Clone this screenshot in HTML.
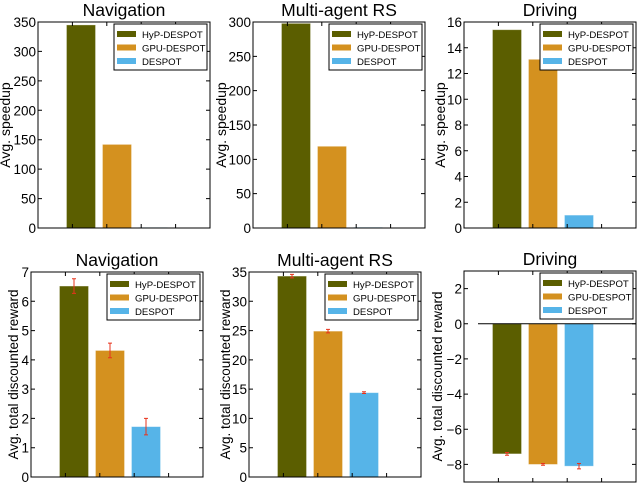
<!DOCTYPE html>
<html><head><meta charset="utf-8"><style>
body{margin:0;background:#fff}
svg{display:block;font-family:"Liberation Sans","DejaVu Sans",sans-serif}
</style></head><body>
<svg id="chart" width="640" height="483" viewBox="0 0 640 483"></svg>
<script>
const series = ["HyP-DESPOT","GPU-DESPOT","DESPOT"];
const colors = ["#5b5e00","#d4911f","#56b4e8"];
const titles = ["Navigation","Multi-agent RS","Driving"];
const speedupNav = [345, 142, 1];
const speedupRS = [298, 119, 1];
const speedupDrive = [15.4, 13.1, 1.0];
const rewardNav = [6.52, 4.32, 1.72];
const rewardNavErr = [0.25, 0.25, 0.28];
const rewardRS = [34.3, 24.9, 14.4];
const rewardRSErr = [0.3, 0.3, 0.15];
const rewardDrive = [-7.4, -8.0, -8.1];
const rewardDriveErr = [0.08, 0.05, 0.15];
const ticksNav = [0,50,100,150,200,250,300,350];
const ticksRS = [0,50,100,150,200,250,300];
const ticksDrive = [0,2,4,6,8,10,12,14,16];
const ticksRNav = [0,1,2,3,4,5,6,7];
const ticksRRS = [0,5,10,15,20,25,30,35];
const ticksRDrive = [-8,-6,-4,-2,0,2];

const panels = [
 {name:"navigation-speedup",L:38,T:22,B:228,lx:10,title:titles[0],yl:"Avg. speedup",vals:speedupNav,err:null,ymin:0,ymax:350,ticks:ticksNav},
 {name:"multiagent-speedup",L:253,T:22,B:228,lx:226,title:titles[1],yl:"Avg. speedup",vals:speedupRS,err:null,ymin:0,ymax:300,ticks:ticksRS},
 {name:"driving-speedup",L:464,T:22,B:228,lx:445,title:titles[2],yl:"Avg. speedup",vals:speedupDrive,err:null,ymin:0,ymax:16,ticks:ticksDrive},
 {name:"navigation-reward",L:31,T:272,B:477,lx:18,title:titles[0],yl:"Avg. total discounted reward",vals:rewardNav,err:rewardNavErr,ymin:0,ymax:7,ticks:ticksRNav},
 {name:"multiagent-reward",L:249,T:272,B:477,lx:230,title:titles[1],yl:"Avg. total discounted reward",vals:rewardRS,err:rewardRSErr,ymin:0,ymax:35,ticks:ticksRRS},
 {name:"driving-reward",L:464,T:271,B:482,lx:442,title:titles[2],yl:"Avg. total discounted reward",vals:rewardDrive,err:rewardDriveErr,ymin:-9,ymax:3,ticks:ticksRDrive,zero:true}
];
const NS="http://www.w3.org/2000/svg";
const svg=document.getElementById("chart");
function mk(tag,attrs,parent,text){const e=document.createElementNS(NS,tag);for(const k in attrs)e.setAttribute(k,attrs[k]);if(text!==undefined)e.textContent=text;(parent||svg).appendChild(e);return e;}
const W=172;
panels.forEach(p=>{
 const g=mk("g",{});
 
 
 const y=v=>p.B-(v-p.ymin)/(p.ymax-p.ymin)*(p.B-p.T);
 const xc=i=>p.L+43+36*i;
 const t=mk("text",{x:p.L+W/2,y:p.T-6,"text-anchor":"middle","font-size":"17.5"},g,p.title);
 
 
 const base=y(Math.max(p.ymin,Math.min(0,p.ymax)));
 p.vals.forEach((v,i)=>{
  const y1=y(v);
  const r=mk("rect",{x:xc(i)-14.5,y:Math.min(y1,base),width:29,height:Math.max(0.5,Math.abs(y1-base)),fill:colors[i],stroke:"#fff","stroke-opacity":"0.4","stroke-width":"0.8"},g);
  
  
  if(p.err){
   const e=p.err[i],ya=y(v+e),yb=y(v-e);
   const eb=mk("path",{d:`M${xc(i)},${ya}V${yb}M${xc(i)-2},${ya}H${xc(i)+2}M${xc(i)-2},${yb}H${xc(i)+2}`,stroke:"#e8331c","stroke-width":"1",fill:"none"},g);
   
   
  }
 });
 if(p.zero){
  const z=mk("line",{x1:p.L+14,x2:p.L+W,y1:y(0),y2:y(0),stroke:"#000","stroke-width":"1"},g);
  
  
 }
 const ax=mk("rect",{x:p.L,y:p.T,width:W,height:p.B-p.T,fill:"none",stroke:"#000","stroke-width":"1"},g);
 
 
 p.ticks.forEach(tv=>{
  const ty=y(tv);
  mk("path",{d:`M${p.L},${ty}h4M${p.L+W},${ty}h-4`,stroke:"#000","stroke-width":"1"},g);
  const tl=mk("text",{x:p.L-2,y:ty+5,"text-anchor":"end","font-size":"13.5"},g,tv<0?"\u2212"+(-tv):String(tv));
  
  
 });
 [0,1,2,3].forEach(k=>{const tx=p.L+W*(k+1)/5;mk("path",{d:`M${tx},${p.B}v-4M${tx},${p.T}v4`,stroke:"#000","stroke-width":"1"},g);});
 const cy=(p.T+p.B)/2;
 const yl=mk("text",{x:0,y:0,transform:`translate(${p.lx},${cy}) rotate(-90)`,"text-anchor":"middle","font-size":p.yl.length>15?"13.5":"14"},g,p.yl);
 
 
 const lg=mk("g",{},g);
 
 
 const lx=p.L+W-96,ly=p.T+2;
 mk("rect",{x:lx,y:ly,width:93,height:46,fill:"#fff",stroke:"#000","stroke-width":"1"},lg);
 series.forEach((s,i)=>{
  mk("rect",{x:lx+3,y:ly+7+13.5*i,width:19,height:6,fill:colors[i]},lg);
  const le=mk("text",{x:lx+28,y:ly+14+13.5*i,"font-size":"9.6"},lg,s);
  
  
 });
});
</script>
</body></html>
